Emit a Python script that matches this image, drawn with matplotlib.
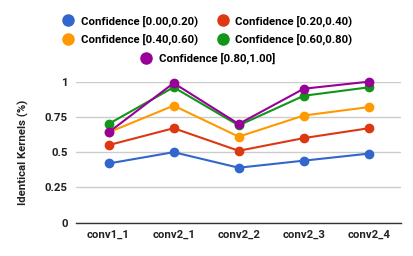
import matplotlib
matplotlib.use("Agg")
import matplotlib.pyplot as plt
from matplotlib.lines import Line2D

categories = ["conv1_1", "conv2_1", "conv2_2", "conv2_3", "conv2_4"]
series_names = ["Confidence [0.00,0.20)", "Confidence [0.20,0.40)",
                "Confidence [0.40,0.60)", "Confidence [0.60,0.80)",
                "Confidence [0.80,1.00]"]
conf_00_20 = [0.42, 0.50, 0.39, 0.44, 0.49]
conf_20_40 = [0.55, 0.67, 0.51, 0.60, 0.67]
conf_40_60 = [0.64, 0.83, 0.61, 0.76, 0.82]
conf_60_80 = [0.70, 0.96, 0.69, 0.90, 0.96]
conf_80_100 = [0.64, 0.99, 0.70, 0.95, 1.00]
yticks = [0, 0.25, 0.5, 0.75, 1]
ytick_labels = ["0", "0.25", "0.5", "0.75", "1"]

colors = ["#3366cc", "#dc3912", "#ff9900", "#109618", "#990099"]
all_series = [conf_00_20, conf_20_40, conf_40_60, conf_60_80, conf_80_100]

plt.rcParams['font.family'] = ['Roboto', 'DejaVu Sans']
plt.rcParams['font.weight'] = 'bold'
FS = 8.2

fig = plt.figure(figsize=(4.14, 2.56), dpi=100)
ax = fig.add_axes([0.1836, 0.130, 0.786, 0.551])

x = list(range(len(categories)))
for vals, c, name in zip(all_series, colors, series_names):
    ax.plot(x, vals, color=c, lw=1.5, marker='o', ms=6, clip_on=False,
            label=name, zorder=3)

ax.set_xlim(-0.5, len(categories) - 0.5)
ax.set_ylim(0, 1)
ax.set_yticks(yticks)
ax.set_yticklabels(ytick_labels)
ax.set_xticks(x)
ax.set_xticklabels(categories)
ax.tick_params(axis='both', length=0, labelsize=FS, colors='#222222')
ax.tick_params(axis='y', pad=6)
ax.tick_params(axis='x', pad=5)
for t in ax.get_xticklabels() + ax.get_yticklabels():
    t.set_fontweight('bold')
ax.grid(axis='y', color='#cccccc', lw=1)
ax.set_axisbelow(True)
for s in ['top', 'right', 'left']:
    ax.spines[s].set_visible(False)
ax.spines['bottom'].set_color('#333333')
ax.spines['bottom'].set_linewidth(1)
ax.set_ylabel("Identical Kernels (%)", fontsize=FS, fontweight='bold',
              color='#222222', labelpad=11)

def leg_handle(c):
    return Line2D([], [], color=c, marker='o', ls='none', ms=8)

order = [0, 2, 1, 3]  # column-major fill -> rows: (0,1), (2,3)
leg1 = fig.legend([leg_handle(colors[i]) for i in order],
                  [series_names[i] for i in order],
                  ncol=2, loc='upper center', bbox_to_anchor=(0.5, 0.962),
                  frameon=False, handletextpad=0.5,
                  columnspacing=1.6, labelspacing=0.62, handlelength=1.2,
                  borderpad=0, prop={'weight': 'bold', 'size': FS})
leg2 = fig.legend([leg_handle(colors[4])], series_names[4:],
                  loc='upper center', bbox_to_anchor=(0.5, 0.816),
                  frameon=False, handletextpad=0.5, handlelength=1.2,
                  borderpad=0, prop={'weight': 'bold', 'size': FS})

fig.savefig("out.png", dpi=100)
